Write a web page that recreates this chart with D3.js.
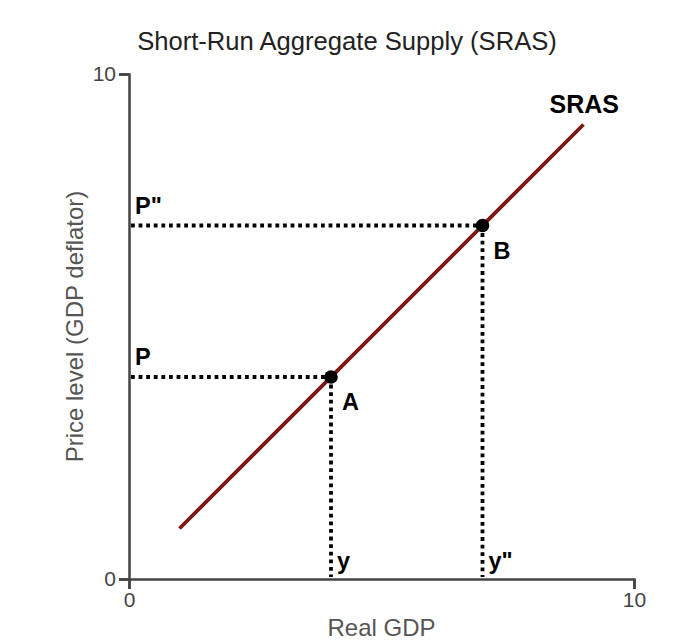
<!DOCTYPE html>
<html>
<head>
<meta charset="utf-8">
<script src="https://cdn.jsdelivr.net/npm/d3@7"></script>
<style>
  html, body { margin: 0; padding: 0; background: #fff; }
  svg { display: block; font-family: "Liberation Sans", Arial, sans-serif; }
</style>
</head>
<body>
<svg id="chart" width="678" height="642"></svg>
<script>
// ---- data ----
const chartTitle = "Short-Run Aggregate Supply (SRAS)";
const xAxisTitle = "Real GDP";
const yAxisTitle = "Price level (GDP deflator)";
const xDomain = [0, 10];
const yDomain = [0, 10];
const xTickValues = [0, 10];
const yTickValues = [0, 10];
const srasX = [1, 9];
const srasY = [1, 9];
const srasLabel = "SRAS";
const pointNames = ["A", "B"];
const pointX = [4, 7];
const pointY = [4, 7];
const priceLabels = ["P", "P\""];
const outputLabels = ["y", "y\""];

// ---- layout ----
const svg = d3.select("#chart");
const margin = { left: 129, right: 44, top: 74, bottom: 63 };
const W = 678, H = 642;
const x = d3.scaleLinear().domain(xDomain).range([margin.left, W - margin.right]);
const y = d3.scaleLinear().domain(yDomain).range([H - margin.bottom, margin.top]);

const axisColor = "#444";

// axes
const gx = svg.append("g")
  .attr("transform", `translate(0,${y(0)})`)
  .call(d3.axisBottom(x).tickValues(xTickValues).tickFormat(d3.format("d")).tickSize(10).tickPadding(3));
const gy = svg.append("g")
  .attr("transform", `translate(${x(0)},0)`)
  .call(d3.axisLeft(y).tickValues(yTickValues).tickFormat(d3.format("d")).tickSize(10).tickPadding(3));
[gx, gy].forEach(g => {
  g.selectAll("path, line").attr("stroke", axisColor).attr("stroke-width", 2.5);
  g.selectAll("text").attr("fill", axisColor).style("font-size", "21px")
    .style("font-family", "'Liberation Sans', Arial, sans-serif");
});

// title
svg.append("text")
  .attr("x", 347).attr("y", 50)
  .attr("text-anchor", "middle")
  .attr("fill", "#222")
  .style("font-size", "25.6px")
  .text(chartTitle);

// axis titles
svg.append("text")
  .attr("x", (x(0) + x(10)) / 2).attr("y", 636)
  .attr("text-anchor", "middle")
  .attr("fill", "#555")
  .style("font-size", "24px")
  .text(xAxisTitle);
svg.append("text")
  .attr("transform", `translate(83,${(y(0) + y(10)) / 2}) rotate(-90)`)
  .attr("text-anchor", "middle")
  .attr("fill", "#555")
  .style("font-size", "24px")
  .text(yAxisTitle);

// dotted guides
const guides = svg.append("g")
  .attr("stroke", "#000").attr("stroke-width", 3.8)
  .attr("stroke-dasharray", "3.8,3.8").attr("fill", "none");
pointX.forEach((px, i) => {
  guides.append("line")
    .attr("x1", x(0) + 2).attr("x2", x(px))
    .attr("y1", y(pointY[i])).attr("y2", y(pointY[i]));
  guides.append("line")
    .attr("x1", x(px)).attr("x2", x(px))
    .attr("y1", y(pointY[i])).attr("y2", y(0) - 2);
});

// SRAS line
const lineGen = d3.line().x(d => x(d[0])).y(d => y(d[1]));
svg.append("path")
  .datum(srasX.map((v, i) => [v, srasY[i]]))
  .attr("d", lineGen)
  .attr("stroke", "#7a1a14").attr("stroke-width", 3.8).attr("fill", "none");

// points
pointX.forEach((px, i) => {
  svg.append("circle")
    .attr("cx", x(px)).attr("cy", y(pointY[i])).attr("r", 6.8)
    .attr("fill", "#000");
});

// labels
const labelStyle = sel => sel.attr("fill", "#000").style("font-weight", "bold").style("font-size", "23.5px");
pointNames.forEach((name, i) => {
  svg.append("text")
    .attr("x", x(pointX[i]) + 11).attr("y", y(pointY[i]) + 33)
    .call(labelStyle).text(name);
  svg.append("text")
    .attr("x", x(0) + 6).attr("y", y(pointY[i]) - 12)
    .call(labelStyle).text(priceLabels[i]);
  svg.append("text")
    .attr("x", x(pointX[i]) + 6).attr("y", y(0) - 10)
    .call(labelStyle).text(outputLabels[i]);
});
svg.append("text")
  .attr("x", x(srasX[1]) - 34).attr("y", y(srasY[1]) - 12)
  .attr("fill", "#000").style("font-weight", "bold").style("font-size", "25px")
  .text(srasLabel);
</script>
</body>
</html>
